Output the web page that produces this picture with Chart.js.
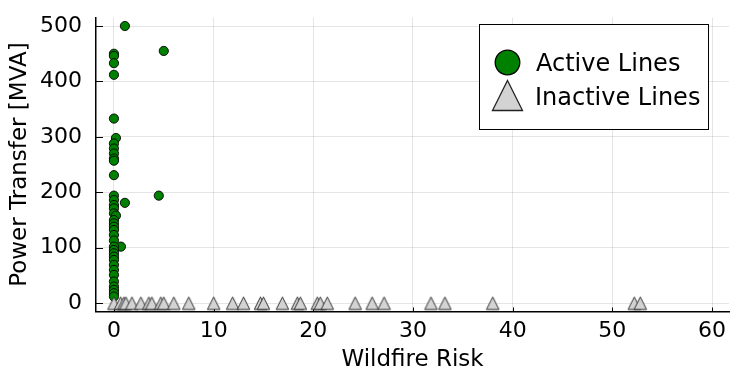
<!DOCTYPE html>
<html><head><meta charset="utf-8">
<script src="https://cdn.jsdelivr.net/npm/chart.js@4/dist/chart.umd.min.js"></script>
<style>html,body{margin:0;padding:0;background:#fff;}</style>
</head><body>
<canvas id="c" width="747" height="374" style="width:747px;height:374px;display:block"></canvas>
<script>
// ---- data ----
const activeRisk = [1.1, 5.0, 0, 0, 0, 0, 0, 0.2, 0, 0, 0, 0, 0, 0, 0, 4.5, 0, 1.1, 0, 0, 0, 0.2, 0, 0, 0, 0, 0, 0, 0.7, 0, 0, 0, 0, 0, 0, 0, 0, 0, 0, 0, 0, 0];
const activeFlow = [500, 455, 450, 446, 433, 412, 333, 298, 288, 279, 270, 261, 257, 231, 194, 194, 186, 181, 177, 171, 162, 158, 150, 144, 138, 132, 123, 113, 102, 102, 96, 90, 84, 78, 69, 60, 51, 39, 30, 24, 18, 12];
const inactiveRisk = [0, 0.67, 1.0, 1.2, 1.8, 2.7, 3.5, 3.8, 4.7, 5.0, 6.0, 7.5, 10.0, 11.9, 13.0, 14.7, 15.0, 16.9, 18.4, 18.7, 20.4, 20.7, 21.4, 24.2, 25.9, 27.1, 31.8, 33.2, 38.0, 52.2, 52.8];
const inactiveFlow = [0, 0, 0, 0, 0, 0, 0, 0, 0, 0, 0, 0, 0, 0, 0, 0, 0, 0, 0, 0, 0, 0, 0, 0, 0, 0, 0, 0, 0, 0, 0];
const xTicks = [0, 10, 20, 30, 40, 50, 60];
const yTicks = [0, 100, 200, 300, 400, 500];
const seriesNames = ['Active Lines', 'Inactive Lines'];
const xTitle = 'Wildfire Risk';
const yTitle = 'Power Transfer [MVA]';

const FONT = "'DejaVu Sans', 'Liberation Sans', sans-serif";

function drawTri(ctx, cx, cy, w, h, lw) {
  ctx.beginPath();
  ctx.moveTo(cx, cy - h / 2);
  ctx.lineTo(cx + w / 2, cy + h / 2);
  ctx.lineTo(cx - w / 2, cy + h / 2);
  ctx.closePath();
  ctx.fillStyle = '#d3d3d3';
  ctx.fill();
  ctx.lineWidth = lw;
  ctx.strokeStyle = '#222';
  ctx.stroke();
}
const triCanvas = document.createElement('canvas');
triCanvas.width = 15; triCanvas.height = 15;
drawTri(triCanvas.getContext('2d'), 7.5, 7.5, 12.5, 12.5, 0.9);

const zip = (a, b) => a.map((v, i) => ({x: v, y: b[i]}));

const innerTicks = {
  id: 'innerTicks',
  beforeDatasetsDraw(chart) {
    const ctx = chart.ctx, xs = chart.scales.x, ys = chart.scales.y;
    ctx.save();
    ctx.strokeStyle = '#000';
    ctx.lineWidth = 1;
    ctx.beginPath();
    xs.ticks.forEach(t => {
      const px = Math.round(xs.getPixelForValue(t.value)) + 0.5;
      ctx.moveTo(px, ys.bottom); ctx.lineTo(px, ys.bottom - 4);
    });
    ys.ticks.forEach(t => {
      const py = Math.round(ys.getPixelForValue(t.value)) + 0.5;
      ctx.moveTo(xs.left, py); ctx.lineTo(xs.left + 7, py);
    });
    ctx.stroke();
    ctx.restore();
  }
};

const boxLegend = {
  id: 'boxLegend',
  afterDraw(chart) {
    const ctx = chart.ctx;
    ctx.save();
    ctx.fillStyle = '#fff';
    ctx.fillRect(479.5, 24.5, 229, 105);
    ctx.strokeStyle = '#000';
    ctx.lineWidth = 1;
    ctx.strokeRect(479.5, 24.5, 229, 105);
    ctx.beginPath();
    ctx.arc(507.5, 62.5, 12.3, 0, Math.PI * 2);
    ctx.fillStyle = '#008000';
    ctx.fill();
    ctx.lineWidth = 1.3;
    ctx.strokeStyle = '#000';
    ctx.stroke();
    drawTri(ctx, 507.5, 95.5, 30, 30, 1.3);
    ctx.fillStyle = '#000';
    ctx.font = '24px ' + FONT;
    ctx.textBaseline = 'alphabetic';
    ctx.textAlign = 'left';
    ctx.fillText(seriesNames[0], 536, 71);
    ctx.fillText(seriesNames[1], 535, 104.5);
    ctx.restore();
  }
};

new Chart(document.getElementById('c'), {
  type: 'scatter',
  data: {
    datasets: [
      {label: seriesNames[0], data: zip(activeRisk, activeFlow), order: 2,
       pointStyle: 'circle', pointRadius: 4.6, pointBorderWidth: 0.9,
       backgroundColor: '#008000', borderColor: '#000'},
      {label: seriesNames[1], data: zip(inactiveRisk, inactiveFlow), order: 1,
       pointStyle: triCanvas, pointRadius: 7}
    ]
  },
  options: {
    responsive: false, animation: false, devicePixelRatio: 1,
    layout: {padding: {top: 17.7, right: 18, bottom: 0, left: 0}},
    plugins: {legend: {display: false}, tooltip: {enabled: false}},
    scales: {
      x: {
        type: 'linear', min: -1.8, max: 61.7,
        afterFit(s) { s.height = 62.5; s.paddingLeft = 0; s.paddingRight = 0; },
        afterBuildTicks(s) { s.ticks = xTicks.map(v => ({value: v})); },
        ticks: {font: {family: FONT, size: 22}, color: '#000', padding: 7, includeBounds: false, maxRotation: 0, autoSkip: false},
        grid: {color: 'rgba(0,0,0,0.1)', lineWidth: 1, drawTicks: false},
        border: {display: true, color: '#000', width: 1.5},
        title: {display: true, text: xTitle, color: '#000', font: {family: FONT, size: 23}, padding: {top: 0, bottom: 0}}
      },
      y: {
        type: 'linear', min: -15, max: 515,
        afterFit(s) { s.width = 96; s.paddingTop = 0; s.paddingBottom = 0; },
        afterBuildTicks(s) { s.ticks = yTicks.map(v => ({value: v})); },
        ticks: {font: {family: FONT, size: 22}, color: '#000', padding: 14, includeBounds: false, autoSkip: false},
        grid: {color: 'rgba(0,0,0,0.1)', lineWidth: 1, drawTicks: false},
        border: {display: true, color: '#000', width: 1.5},
        title: {display: true, text: yTitle, color: '#000', font: {family: FONT, size: 23}, padding: {top: 6, bottom: 0}}
      }
    }
  },
  plugins: [innerTicks, boxLegend]
});
</script>
</body></html>
